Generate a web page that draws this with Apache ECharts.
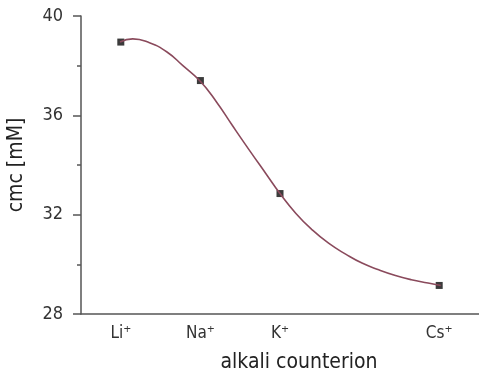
<!DOCTYPE html>
<html><head><meta charset="utf-8">
<script src="https://cdn.jsdelivr.net/npm/echarts@6/dist/echarts.min.js"></script>
<style>html,body{margin:0;padding:0;background:#fff}#c{width:479px;height:374px}</style>
</head><body><div id="c"></div>
<script>
const categories = ['Li\u207A', 'Na\u207A', 'K\u207A', '', 'Cs\u207A'];
const pointIndex = [0, 1, 2, 4];
const cmcValues = [38.95, 37.4, 32.85, 29.15];
const fitX = [-0.01, 0.15, 0.36, 0.58, 0.78, 0.99, 1.2, 1.4, 1.61, 1.83, 2.0, 2.2, 2.4, 2.61, 2.83, 3.03, 3.24, 3.45, 3.65, 3.86, 4.02];
const fitY = [38.95, 39.08, 38.92, 38.55, 38.0, 37.4, 36.55, 35.6, 34.62, 33.62, 32.85, 32.05, 31.4, 30.85, 30.4, 30.05, 29.78, 29.55, 29.38, 29.25, 29.15];
const yTicks = [28, 32, 36, 40];

const font = "'Liberation Sans Narrow','DejaVu Sans Condensed','Liberation Sans',sans-serif";
const chart = echarts.init(document.getElementById('c'));
chart.setOption({
  animation: false,
  grid: {left: 81, right: 0, top: 16, bottom: 60, containLabel: false, outerBoundsMode: 'none'},
  xAxis: [{
    type: 'category', data: categories, boundaryGap: true,
    name: 'alkali counterion', nameLocation: 'middle', nameGap: 38,
    nameTextStyle: {fontFamily: font, fontSize: 21, color: '#222', padding: [0, 0, 0, 38]},
    axisLine: {lineStyle: {color: '#555', width: 1.5}},
    axisTick: {alignWithLabel: true, length: 6, lineStyle: {color: '#555', width: 1.5}},
    axisLabel: {fontFamily: font, fontSize: 17, color: '#333', margin: 11},
    splitLine: {show: false}
  }, {
    type: 'value', min: -0.5, max: 4.5, show: false
  }],
  yAxis: {
    type: 'value', min: yTicks[0], max: yTicks[yTicks.length - 1], interval: 4,
    name: 'cmc [mM]', nameLocation: 'middle', nameGap: 54,
    nameTextStyle: {fontFamily: font, fontSize: 21, color: '#222'},
    axisLine: {show: true, onZero: false, lineStyle: {color: '#555', width: 1.5}},
    axisTick: {show: true, length: 8, lineStyle: {color: '#555', width: 1.5}},
    minorTick: {show: true, splitNumber: 2, length: 4, lineStyle: {color: '#555', width: 1.5}},
    axisLabel: {fontFamily: font, fontSize: 18, color: '#333', margin: 18},
    splitLine: {show: false}
  },
  series: [{
    type: 'line', xAxisIndex: 1, smooth: 0.5, symbol: 'none',
    data: fitX.map((x, i) => [x, fitY[i]]),
    lineStyle: {color: '#8a4a5c', width: 1.6}
  }, {
    type: 'scatter', xAxisIndex: 1, symbol: 'rect', symbolSize: 7,
    data: pointIndex.map((x, i) => [x, cmcValues[i]]),
    itemStyle: {color: '#0a0a0a'}
  }]
});
</script></body></html>
